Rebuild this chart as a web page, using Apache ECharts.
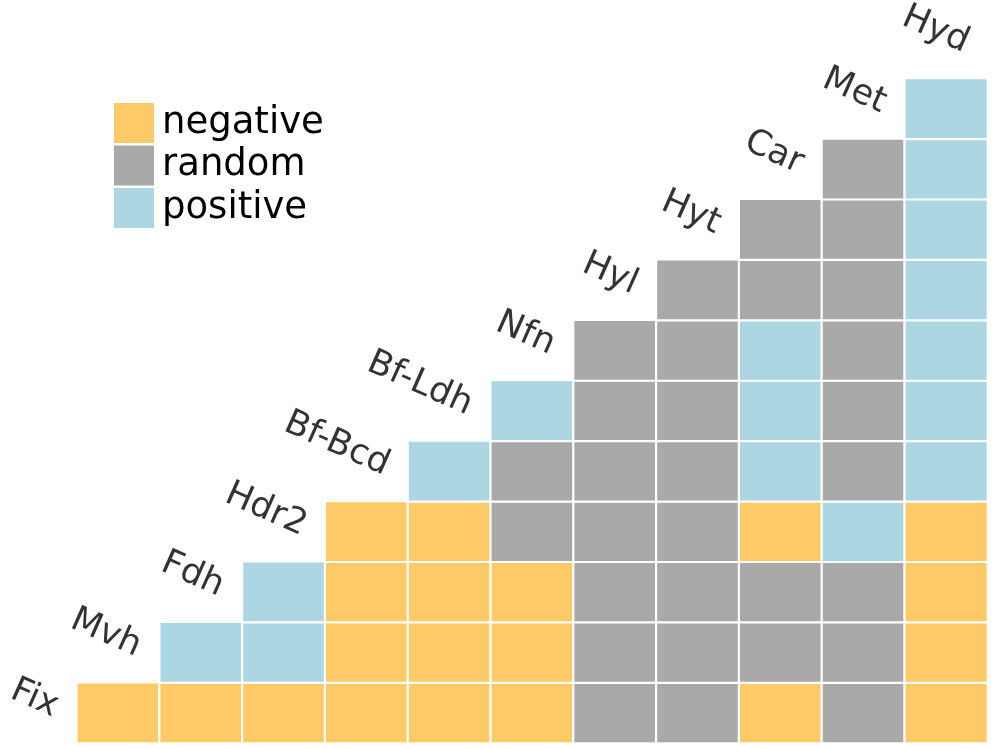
<!DOCTYPE html>
<html lang="en">
<head>
    <meta charset="UTF-8">
    <title>pairwise interactions</title>
    <style>
        html,body{
            padding: 0;margin: 0;background: #fff;overflow: hidden;
        }
        /* the first (label only) column starts a few px left of the page */
        #main{
            width: 1003px;height: 749px;margin-left: -6px;
        }
    </style>
    <script src="https://cdn.jsdelivr.net/npm/echarts@6/dist/echarts.min.js"></script>
</head>
<body>
<div id="main"></div>
</body>
</html>
<script>
    // names along the diagonal, bottom-left to top-right
    var names = ['Fix','Mvh','Fdh','Hdr2','Bf-Bcd','Bf-Ldh','Nfn','Hyl','Hyt','Car','Met','Hyd'];
    var kinds = ['negative','random','positive'];
    var colors = ['#FDCA67','#A9A9A9','#ADD6E3'];

    // 0 = negative, 1 = random, 2 = positive ; each column listed from the bottom row (Fix) up
    var colMvh   = [0];
    var colFdh   = [0,2];
    var colHdr2  = [0,2,2];
    var colBfBcd = [0,0,0,0];
    var colBfLdh = [0,0,0,0,2];
    var colNfn   = [0,0,0,1,1,2];
    var colHyl   = [1,1,1,1,1,1,1];
    var colHyt   = [1,1,1,1,1,1,1,1];
    var colCar   = [0,1,1,0,2,2,2,1,1];
    var colMet   = [1,1,1,2,1,1,1,1,1,1];
    var colHyd   = [0,0,0,0,2,2,2,2,2,2,2];

    var columns = [colMvh,colFdh,colHdr2,colBfBcd,colBfLdh,colNfn,colHyl,colHyt,colCar,colMet,colHyd];

    var cells = [];
    columns.forEach(function(col, c){
        col.forEach(function(v, r){
            cells.push([c + 1, r, v]);
        });
    });

    var diag = names.map(function(n, i){
        return {name: n, value: [i, i]};
    });

    var myChart = echarts.init(document.getElementById('main'));

    var option = {
        animation: false,
        grid: {left: 0, right: 9.5, top: 18, bottom: 6},
        xAxis: {
            type: 'category', data: names, show: false,
            splitArea: {show: false}
        },
        yAxis: {
            type: 'category', data: names, show: false,
            splitArea: {show: false}
        },
        visualMap: {
            type: 'piecewise',
            seriesIndex: 0,
            dimension: 2,
            orient: 'vertical',
            inverse: true,
            left: 105, top: 88,
            itemWidth: 40, itemHeight: 40, itemGap: 2.5, textGap: 8,
            itemSymbol: 'rect',
            selectedMode: false,
            textStyle: {fontSize: 37, fontFamily: 'DejaVu Sans', color: '#000'},
            pieces: kinds.map(function(k, i){
                return {value: i, label: k, color: colors[i]};
            })
        },
        series: [
            {
                type: 'heatmap',
                data: cells,
                itemStyle: {borderColor: '#fff', borderWidth: 2.2},
                emphasis: {disabled: true}
            },
            {
                type: 'scatter',
                data: diag,
                symbolSize: 1,
                silent: true,
                itemStyle: {color: 'rgba(0,0,0,0)'},
                label: {
                    show: true,
                    formatter: '{b}',
                    position: [21.5, -3.8],
                    align: 'right',
                    verticalAlign: 'middle',
                    rotate: -24,
                    fontSize: 35,
                    fontFamily: 'DejaVu Sans',
                    color: '#000'
                }
            }
        ]
    };
    myChart.setOption(option);
</script>
